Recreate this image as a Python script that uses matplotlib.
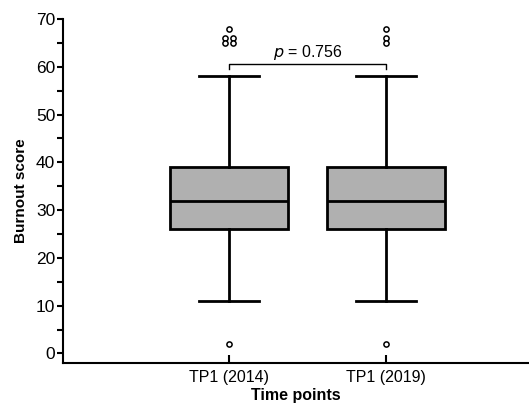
import matplotlib.pyplot as plt
import numpy as np

plt.rcParams["font.family"] = ["Liberation Sans", "DejaVu Sans"]

# summary statistics
groups = ["TP1 (2014)", "TP1 (2019)"]
medians = [32, 32]
q1 = [26, 26]
q3 = [39, 39]
whislo = [11, 11]
whishi = [58, 58]
# outliers: (x offset within group, value)
outliers_2014 = [(0.0, 68), (-0.023, 66), (-0.023, 65), (0.023, 66), (0.023, 65), (0.0, 2)]
outliers_2019 = [(0.0, 68), (0.0, 66), (0.0, 65), (0.0, 2)]
p_text = "0.756"

stats = []
for i, g in enumerate(groups):
    stats.append(dict(label=g, med=medians[i], q1=q1[i], q3=q3[i],
                      whislo=whislo[i], whishi=whishi[i], fliers=[]))

fig = plt.figure(figsize=(5.29, 4.03), dpi=100)
ax = fig.add_axes([63 / 529, 1 - 363 / 403, 1 - 63 / 529, (363 - 19) / 403])

positions = [1, 2]
ax.bxp(stats, positions=positions, widths=0.75, patch_artist=True, showfliers=False,
       boxprops=dict(facecolor="#b0b0b0", edgecolor="black", linewidth=2),
       medianprops=dict(color="black", linewidth=2),
       whiskerprops=dict(color="black", linewidth=2),
       capprops=dict(color="black", linewidth=2),
       capwidths=0.38)

for pos, outs in zip(positions, [outliers_2014, outliers_2019]):
    xs = [pos + dx for dx, _ in outs]
    ys = [v for _, v in outs]
    ax.scatter(xs, ys, s=14, facecolors="white", edgecolors="black", linewidths=1.1, zorder=3)

# significance bracket
y_br, y_drop = 60.6, 59.6
ax.plot([1, 1, 2, 2], [y_drop, y_br, y_br, y_drop], color="black", linewidth=1)
ax.text(1.5, y_br + 0.5, f"$p$ = {p_text}", ha="center", va="bottom", fontsize=11.5)

ax.set_xlim(1 - 166 / 157, 2 + 143 / 157)
ax.set_ylim(-2, 70)
ax.set_yticks(np.arange(0, 71, 10))
ax.set_yticks(np.arange(5, 70, 10), minor=True)
ax.set_xticks(positions)
ax.set_xticklabels(groups)
ax.tick_params(axis="y", direction="out", length=4, width=1.5, labelsize=12.5, pad=1.5)
ax.tick_params(axis="y", which="minor", direction="out", length=4, width=1.5)
ax.tick_params(axis="x", direction="in", length=6, width=1.5, labelsize=11.5, pad=5)
ax.spines["top"].set_visible(False)
ax.spines["right"].set_visible(False)
ax.spines["left"].set_linewidth(1.5)
ax.spines["bottom"].set_linewidth(1.5)
ax.set_ylabel("Burnout score", fontsize=11, fontweight="bold", labelpad=6)
ax.set_xlabel("Time points", fontsize=11.5, fontweight="bold", labelpad=2)

fig.savefig("out.png", dpi=100)
